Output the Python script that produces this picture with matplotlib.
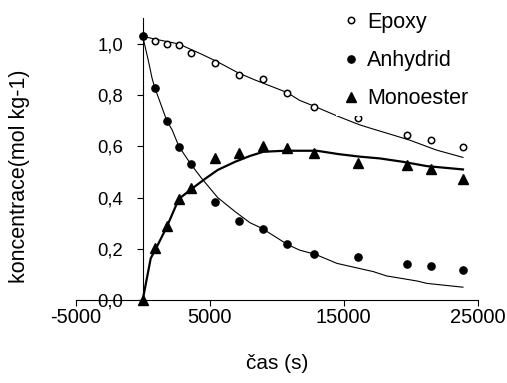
import matplotlib
matplotlib.use("Agg")
import matplotlib.pyplot as plt
from matplotlib.ticker import FuncFormatter, FixedLocator
from matplotlib.lines import Line2D

plt.rcParams['font.family'] = ['Liberation Sans', 'DejaVu Sans']

# observed data
t_obs = [0, 900, 1800, 2700, 3600, 5400, 7200, 9000, 10800, 12800, 16100, 19700, 21500, 23900]
epoxy_obs = [1.03, 1.013, 0.999, 0.997, 0.966, 0.927, 0.88, 0.865, 0.81, 0.755, 0.709, 0.646, 0.624, 0.596]
anhydrid_obs = [1.031, 0.827, 0.70, 0.599, 0.530, 0.381, 0.31, 0.279, 0.217, 0.178, 0.169, 0.139, 0.131, 0.117]
monoester_obs = [0.0, 0.204, 0.288, 0.396, 0.436, 0.555, 0.575, 0.603, 0.595, 0.573, 0.534, 0.526, 0.51, 0.471]

# model curves
t_epoxy_fit = [0, 1200, 2700, 4400, 5600, 7100, 8400, 10800, 11700, 12800, 14500, 16200, 17000, 19900, 21900, 23900]
epoxy_fit = [1.03, 1.016, 1.0, 0.96, 0.93, 0.888, 0.859, 0.81, 0.78, 0.757, 0.719, 0.684, 0.671, 0.625, 0.586, 0.557]

t_anhydrid_fit = [0, 400, 700, 900, 1800, 2200, 2700, 3600, 4400, 5600, 6900, 8000, 8900, 10800, 11700,
                  12900, 14500, 17200, 18200, 20500, 21200, 23900]
anhydrid_fit = [1.03, 0.94, 0.866, 0.83, 0.70, 0.664, 0.60, 0.53, 0.475, 0.40, 0.345, 0.302, 0.28, 0.217, 0.195,
                0.178, 0.143, 0.111, 0.094, 0.074, 0.065, 0.050]

t_monoester_fit = [0, 600, 1000, 1800, 2700, 3700, 4700, 5600, 6900, 8000, 9000, 10600, 13000, 14600, 16200,
                   17700, 19400, 21200, 23900]
monoester_fit = [0.0, 0.163, 0.202, 0.286, 0.395, 0.436, 0.475, 0.508, 0.540, 0.5625, 0.579, 0.583, 0.583, 0.570,
                 0.56, 0.553, 0.54, 0.523, 0.51]

labels = ['Epoxy', 'Anhydrid', 'Monoester']
x_ticks = [-5000, 5000, 15000, 25000]
y_ticks = [0.0, 0.2, 0.4, 0.6, 0.8, 1.0]

W, H = 507, 383
fig = plt.figure(figsize=(W / 100, H / 100), dpi=100)
ax = fig.add_axes([75.7 / W, 1 - 300 / H, (477.7 - 75.7) / W, (300 - 18.4) / H])

ax.plot(t_epoxy_fit, epoxy_fit, color='black', lw=0.8, zorder=2)
ax.plot(t_anhydrid_fit, anhydrid_fit, color='black', lw=0.8, zorder=2)
ax.plot(t_monoester_fit, monoester_fit, color='black', lw=1.6, zorder=2, clip_on=False)

ax.plot(t_obs, epoxy_obs, 'o', ms=4.6, mfc='white', mec='black', mew=1.1, clip_on=False, zorder=3)
ax.plot(t_obs, anhydrid_obs, 'o', ms=5.2, mfc='black', mec='black', clip_on=False, zorder=3)
ax.plot(t_obs, monoester_obs, '^', ms=6.5, mfc='black', mec='black', clip_on=False, zorder=3)

ax.set_xlim(-5000, 25000)
ax.set_ylim(0, 1.1)

for s in ['top', 'right']:
    ax.spines[s].set_visible(False)
ax.spines['left'].set_position(('data', 0))
ax.spines['left'].set_linewidth(0.8)
ax.spines['bottom'].set_linewidth(0.8)

ax.xaxis.set_major_locator(FixedLocator(x_ticks))
ax.yaxis.set_major_locator(FixedLocator(y_ticks))
ax.xaxis.set_major_formatter(FuncFormatter(lambda v, p: f"{int(round(v))}"))
ax.yaxis.set_major_formatter(FuncFormatter(lambda v, p: f"{v:.1f}".replace('.', ',')))
ax.tick_params(axis='x', direction='out', length=4, width=0.8, pad=2, labelsize=14.5)
ax.tick_params(axis='y', direction='out', length=4, width=0.8, pad=10, labelsize=13.3)

fig.text(276.7 / W, 1 - 363.5 / H, 'čas (s)', ha='center', va='center', fontsize=15)
fig.text(20 / W, 1 - 176 / H, 'koncentrace(mol kg-1)', ha='center', va='center', rotation=90, fontsize=15.5)

handles = [
    Line2D([], [], ls='none', marker='o', ms=4.6, mfc='white', mec='black', mew=1.1),
    Line2D([], [], ls='none', marker='o', ms=5.2, mfc='black', mec='black'),
    Line2D([], [], ls='none', marker='^', ms=6.5, mfc='black', mec='black'),
]
leg = ax.legend(handles, labels, loc='upper left', bbox_to_anchor=(335.5 / W, 1 - 5.5 / H),
                bbox_transform=fig.transFigure, fontsize=15.5, frameon=True, fancybox=False,
                facecolor='white', edgecolor='none', framealpha=1.0, handlelength=0.8,
                handletextpad=0.37, labelspacing=0.8, borderpad=0.3, borderaxespad=0)
leg.set_zorder(5)

fig.savefig('out.png', dpi=100)
